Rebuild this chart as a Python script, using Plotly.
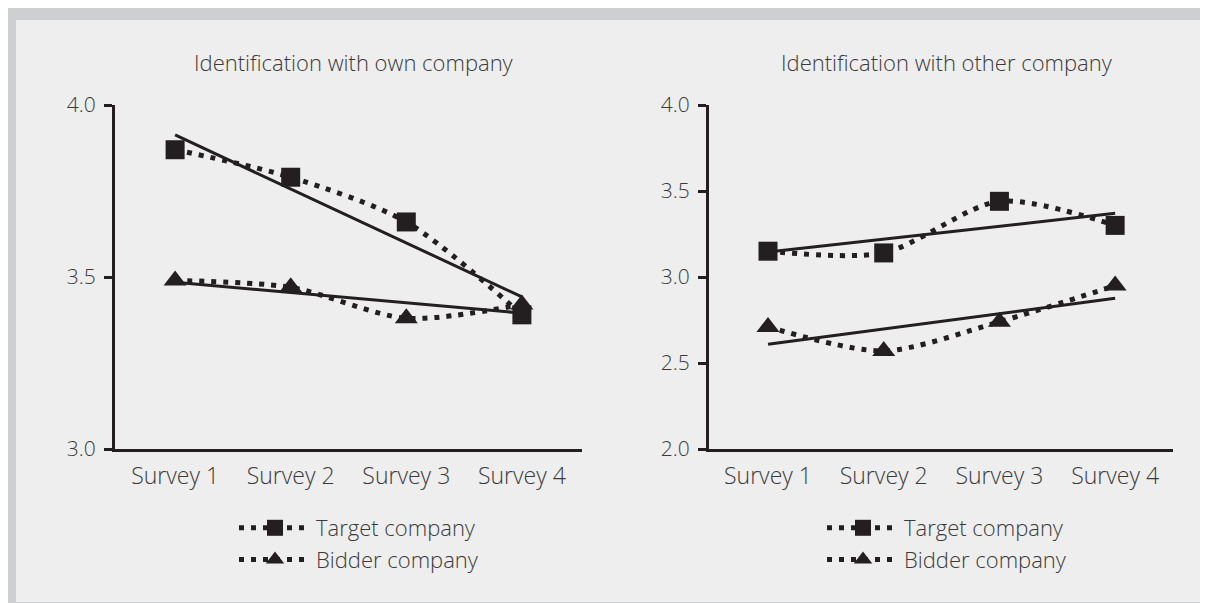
import numpy as np
import plotly.graph_objects as go

surveys = ["Survey 1", "Survey 2", "Survey 3", "Survey 4"]
survey_pos = [1, 2, 3, 4]

own_target = [3.87, 3.79, 3.66, 3.39]
own_bidder = [3.49, 3.47, 3.38, 3.42]
other_target = [3.15, 3.14, 3.44, 3.30]
other_bidder = [2.71, 2.57, 2.74, 2.95]

own_ticks = [3.0, 3.5, 4.0]
other_ticks = [2.0, 2.5, 3.0, 3.5, 4.0]

W, H = 1208, 603
OFF = 8  # page body margin
INK = "#231f20"
TXT = "#3a3a3a"
FONT = "Open Sans"


def px_x(p):
    return (p - OFF) / W


def px_y(p):
    return 1 - (p - OFF) / H


fig = go.Figure()


def add_panel(xa, ya, target, bidder, legend):
    for name, vals, sym, sz in [("Target company", target, "square", 19),
                                ("Bidder company", bidder, "triangle-up", 20)]:
        fig.add_trace(go.Scatter(
            x=survey_pos, y=vals, name=name, mode="lines+markers",
            line=dict(color=INK, width=5, dash="5px,7px", shape="spline", smoothing=0.8),
            marker=dict(symbol=sym, size=sz, color=INK, line=dict(width=0)),
            xaxis=xa, yaxis=ya, legend=legend, showlegend=True,
        ))
        slope, icpt = np.polyfit(survey_pos, vals, 1)
        fit = [slope * p + icpt for p in survey_pos]
        fig.add_trace(go.Scatter(
            x=survey_pos, y=fit, mode="lines",
            line=dict(color=INK, width=3),
            xaxis=xa, yaxis=ya, showlegend=False, hoverinfo="skip",
        ))


add_panel("x", "y", own_target, own_bidder, "legend")
add_panel("x2", "y2", other_target, other_bidder, "legend2")

ydom = [px_y(449), px_y(105)]
xcommon = dict(
    tickvals=survey_pos, ticktext=surveys, showgrid=False, zeroline=False,
    showline=True, linecolor=INK, linewidth=3, ticks="",
    tickfont=dict(family=FONT, size=23, color=TXT, weight=300), ticklabelstandoff=4,
    fixedrange=True, automargin=False,
)
ycommon = dict(
    showgrid=False, zeroline=False, showline=True, linecolor=INK, linewidth=3,
    ticks="outside", ticklen=8, tickwidth=2.5, tickcolor=INK,
    tickfont=dict(family=FONT, size=21, color=TXT, weight=300), tickformat=".1f",
    ticklabelstandoff=4, domain=ydom, fixedrange=True, automargin=False,
)
legcommon = dict(
    xanchor="left", yanchor="top", bgcolor="rgba(0,0,0,0)", borderwidth=0,
    font=dict(family=FONT, size=22, color=TXT, weight=300),
    itemwidth=72, tracegroupgap=0,
)

fig.update_layout(
    template="none",
    width=W, height=H, autosize=False,
    margin=dict(l=0, r=0, t=0, b=0, pad=0),
    paper_bgcolor="white", plot_bgcolor="rgba(0,0,0,0)",
    xaxis=dict(domain=[px_x(115), px_x(582)], range=[0.48, 4.52], anchor="y", **xcommon),
    yaxis=dict(range=[3.0, 4.0], tickvals=own_ticks, anchor="x", **ycommon),
    xaxis2=dict(domain=[px_x(709), px_x(1173)], range=[0.49, 4.5], anchor="y2", **xcommon),
    yaxis2=dict(range=[2.0, 4.0], tickvals=other_ticks, anchor="x2", **ycommon),
    legend=dict(x=px_x(234), y=px_y(507), **legcommon),
    legend2=dict(x=px_x(822), y=px_y(507), **legcommon),
    shapes=[
        dict(type="rect", xref="paper", yref="paper", x0=0, x1=1, y0=0, y1=px_y(8),
             fillcolor="#cdcfd1", line=dict(width=0), layer="below"),
        dict(type="rect", xref="paper", yref="paper", x0=px_x(16), x1=px_x(1203),
             y0=px_y(602), y1=px_y(20), fillcolor="#eeeeee", line=dict(width=0), layer="below"),
    ],
    annotations=[
        dict(text="Identification with own company", x=px_x(354), y=px_y(62),
             xref="paper", yref="paper", xanchor="center", yanchor="middle", showarrow=False,
             font=dict(family=FONT, size=22, color=TXT, weight=300)),
        dict(text="Identification with other company", x=px_x(947), y=px_y(62),
             xref="paper", yref="paper", xanchor="center", yanchor="middle", showarrow=False,
             font=dict(family=FONT, size=22, color=TXT, weight=300)),
    ],
)

fig.write_html("out.html")
